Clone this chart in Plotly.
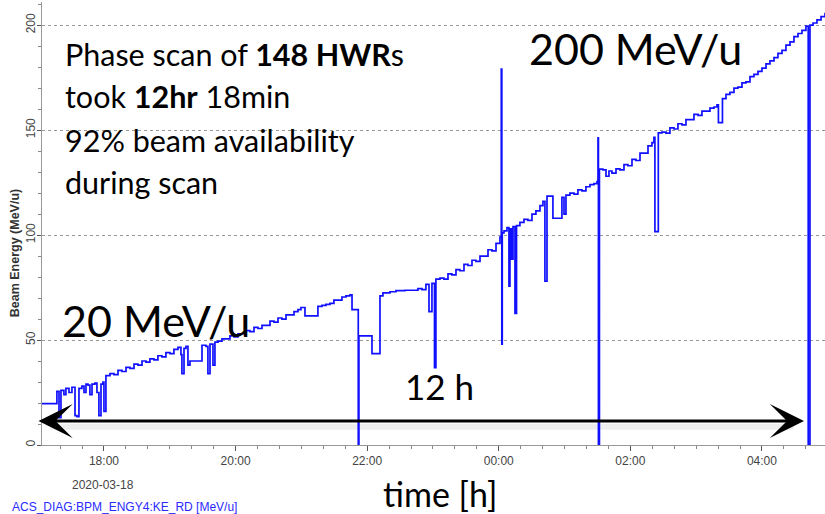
import pandas as pd
import plotly.graph_objects as go

# ---- data: elapsed minutes after 2020-03-18 18:00 and beam energy (MeV/u) ----
minutes_since_1800 = [
    -67.5, -42.9, -41.0, -39.2, -36.5, -34.7, -31.9, -29.2, -26.4, -24.6,
    -22.8, -20.1, -18.2, -16.4, -14.6, -12.8, -10.9, -8.2, -6.4, -4.6,
    -2.7, -0.9, 0.0, 1.8, 5.5, 9.1, 12.8, 16.4, 20.1, 23.7,
    27.4, 31.0, 34.7, 38.3, 41.9, 45.6, 49.2, 52.9, 56.5, 60.2,
    63.8, 67.5, 70.2, 71.1, 73.0, 74.8, 76.6, 78.4, 87.5, 89.4,
    93.0, 94.8, 96.7, 99.4, 101.2, 104.0, 107.6, 111.3, 114.9, 118.5,
    122.2, 125.8, 129.5, 133.1, 136.8, 140.4, 144.1, 147.7, 151.4, 155.0,
    158.7, 162.3, 166.0, 169.6, 173.3, 176.9, 179.6, 183.3, 195.1, 198.8,
    202.4, 206.1, 209.7, 213.4, 217.0, 220.7, 224.3, 226.2, 231.9, 232.5,
    244.4, 251.7, 254.4, 260.8, 266.3, 274.5, 281.8, 286.3, 290.0, 293.6,
    296.4, 299.1, 301.4, 302.7, 306.4, 310.0, 313.7, 317.3, 321.0, 324.6,
    328.3, 331.9, 335.6, 339.2, 342.9, 346.5, 350.2, 353.8, 357.5, 361.1,
    362.3, 362.8, 363.2, 364.8, 367.5, 369.3, 370.2, 371.6, 373.0, 374.8,
    376.2, 379.3, 383.0, 386.6, 390.3, 393.9, 397.6, 400.3, 402.1, 404.0,
    409.4, 417.6, 419.5, 421.3, 424.9, 428.6, 432.2, 435.9, 439.5, 443.2,
    446.8, 449.6, 450.5, 450.9, 451.8, 455.0, 457.8, 460.5, 463.2, 466.9,
    470.5, 474.2, 477.8, 481.5, 485.1, 488.8, 492.4, 496.1, 499.7, 501.5,
    502.4, 505.5, 508.8, 512.5, 516.1, 519.8, 523.4, 527.1, 530.7, 534.4,
    538.0, 541.7, 545.3, 549.0, 552.6, 556.3, 559.0, 560.3, 564.0, 567.2,
    570.8, 574.5, 578.1, 581.8, 585.4, 589.1, 592.7, 596.4, 600.0, 603.7,
    607.3, 611.0, 614.6, 618.3, 621.9, 625.6, 629.2, 632.9, 636.5, 640.1,
    642.2, 643.8, 646.6, 650.2, 653.9, 657.5, 662.0,
]
beam_energy = [
    19.7, 25.5, 13.0, 26.0, 24.0, 27.0, 25.0, 27.5, 14.0, 13.5,
    27.0, 28.0, 25.0, 29.0, 28.5, 24.0, 29.0, 29.5, 25.0, 14.0,
    29.0, 30.0, 16.0, 33.0, 34.0, 33.5, 35.5, 35.0, 37.0, 36.5,
    38.5, 38.0, 40.0, 39.5, 41.0, 40.5, 42.5, 42.0, 44.0, 43.5,
    45.5, 46.5, 43.0, 34.0, 46.0, 47.0, 38.0, 40.0, 40.0, 47.5,
    47.0, 34.0, 48.0, 38.0, 49.0, 49.5, 50.5, 50.5, 52.0, 51.5,
    53.0, 53.0, 54.5, 54.0, 56.0, 55.5, 57.0, 57.0, 59.0, 58.5,
    60.5, 60.0, 62.0, 62.0, 63.5, 64.5, 65.5, 61.5, 66.0, 66.5,
    67.0, 67.5, 69.0, 69.0, 70.5, 71.0, 71.5, 64.5, 0.0, 52.0,
    43.5, 71.0, 72.5, 73.0, 73.5, 73.7, 73.7, 74.5, 74.0, 76.5,
    63.5, 77.0, 36.8, 79.0, 79.5, 79.0, 81.5, 81.0, 83.5, 83.0,
    86.0, 85.5, 88.0, 87.5, 90.0, 90.0, 93.0, 92.5, 96.0, 99.0,
    179.0, 48.0, 101.0, 102.0, 103.5, 75.7, 103.0, 88.5, 104.0, 62.7,
    104.5, 106.0, 107.5, 107.0, 110.0, 111.5, 114.0, 116.0, 78.0, 118.5,
    108.0, 118.0, 110.0, 119.0, 120.0, 119.5, 121.5, 121.0, 123.0, 124.0,
    124.5, 125.5, 146.3, 0.0, 131.4, 131.0, 128.0, 130.5, 129.5, 131.5,
    131.0, 133.5, 133.0, 136.0, 135.5, 139.0, 139.0, 142.5, 144.0, 146.5,
    101.6, 148.7, 149.0, 148.5, 151.0, 150.5, 153.0, 152.5, 155.0, 155.0,
    157.5, 157.0, 159.0, 159.0, 160.5, 161.0, 162.0, 153.5, 165.0, 167.0,
    168.0, 170.0, 170.5, 172.5, 173.0, 175.5, 176.5, 178.0, 179.5, 181.5,
    183.0, 184.5, 186.5, 188.0, 190.5, 192.0, 194.5, 196.0, 197.5, 199.5,
    0.0, 200.0, 201.0, 202.5, 204.0, 205.5, 206.0,
]
scan_start = "2020-03-18 18:00"
x_range = ["2020-03-18 17:03:30", "2020-03-19 04:57:30"]
y_range = [0, 211]
trace_name = "ACS_DIAG:BPM_ENGY4:KE_RD [MeV/u]"

times = pd.Timestamp(scan_start) + pd.to_timedelta(minutes_since_1800, unit="min")

fig = go.Figure()
fig.add_trace(go.Scatter(
    x=times, y=beam_energy, mode="lines", line_shape="hv",
    line=dict(color="#1010ff", width=1.7), name=trace_name, showlegend=False,
))

TXT = "Lato"
TICK = "Liberation Sans"

ann = []
def text(t, x, y, size, xanchor="left", color="black", font=TXT, angle=0):
    ann.append(dict(text=t, x=x, y=y, xref="paper", yref="paper", xanchor=xanchor,
                    yanchor="middle", showarrow=False, textangle=angle,
                    font=dict(family=font, size=size, color=color)))

text("Phase scan of <b>148 HWR</b>s", 0.0268, 0.882, 30.5)
text("took <b>12hr</b> 18min", 0.0268, 0.787, 30.5)
text("92% beam availability", 0.0268, 0.689, 30.5)
text("during scan", 0.0268, 0.594, 30.5)
text("200 MeV/u", 0.6195, 0.896, 43)
text("20 MeV/u", 0.0230, 0.282, 43)
text("12 h", 0.4610, 0.133, 35)
text("time [h]", 0.4330, -0.110, 34)
text("2020-03-18", 0.0779, -0.0903, 12, xanchor="center", color="#444", font=TICK)
text(trace_name, -0.0409, -0.140, 12, color="#2a2aff", font=TICK)
text("<b>Beam Energy (MeV/u)</b>", -0.0345, 0.435, 12.5, xanchor="center", color="#333",
     font=TICK, angle=-90)

# double-headed arrow across the scan
ann.append(dict(x=0.9732, y=0.0542, xref="paper", yref="paper", ax=-767, ay=0,
                axref="pixel", ayref="pixel", showarrow=True, text="",
                arrowhead=3, startarrowhead=3, arrowside="end+start",
                arrowsize=1.9, startarrowsize=1.9, arrowwidth=3, arrowcolor="black"))

fig.update_layout(
    width=825, height=514, margin=dict(l=42, r=0, t=2, b=69),
    paper_bgcolor="white", plot_bgcolor="white",
    annotations=ann,
    shapes=[dict(type="line", xref="paper", yref="paper", x0=0.01, x1=0.96,
                 y0=0.041, y1=0.041, line=dict(color="rgba(0,0,0,0.07)", width=6),
                 layer="below")],
    font=dict(family=TICK, size=12, color="#444"),
)
fig.update_xaxes(
    type="date", range=x_range, tickformat="%H:%M", dtick=7200000,
    tick0="2020-03-18 18:00", ticks="outside", ticklen=5, tickcolor="#555",
    showgrid=False, showline=True, linecolor="#999", zeroline=False,
    minor=dict(dtick=1200000, ticks="outside", ticklen=3, tickcolor="#888"),
    tickfont=dict(family=TICK, size=12, color="#444"),
)
fig.update_yaxes(
    range=y_range, dtick=50, tickangle=-90, ticks="outside", ticklen=4,
    tickcolor="#555", showline=True, linecolor="#999", zeroline=False,
    showgrid=True, gridcolor="#999", griddash="dot", gridwidth=1,
    ticklabelstandoff=-3,
    minor=dict(dtick=10, ticks="outside", ticklen=3, tickcolor="#888", showgrid=False),
    tickfont=dict(family=TICK, size=12, color="#444"),
)
fig.write_html("out.html")
